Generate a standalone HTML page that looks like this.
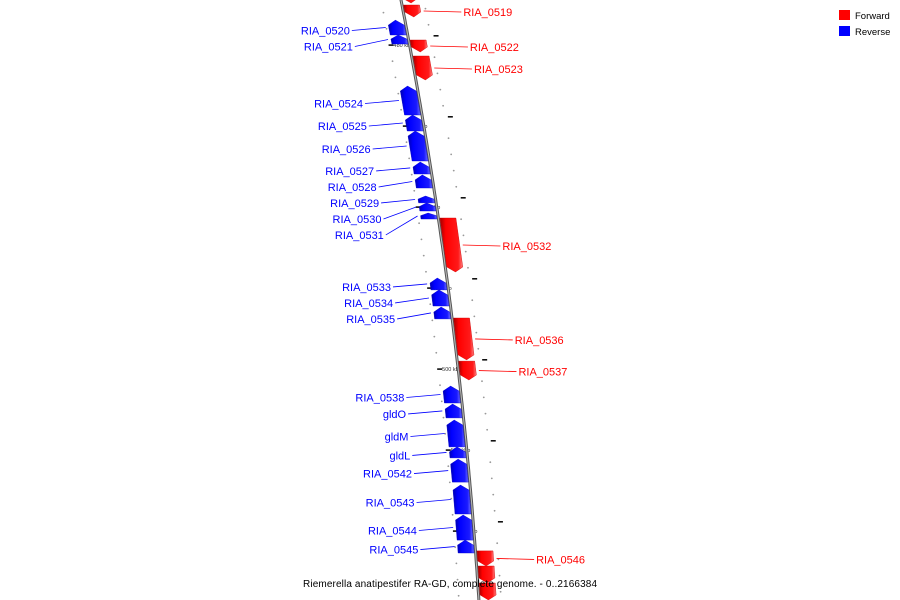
<!DOCTYPE html>
<html><head><meta charset="utf-8"><style>
html,body{margin:0;padding:0;background:#fff;}
svg{display:block;font-family:"Liberation Sans",sans-serif;}
</style></head><body>
<svg id="chart" width="900" height="600" viewBox="0 0 900 600">
<defs>
<linearGradient id="gRed" x1="0" x2="1" y1="0" y2="0"><stop offset="0" stop-color="#a00000"/><stop offset="0.25" stop-color="#ff0000"/><stop offset="0.8" stop-color="#ff1a1a"/><stop offset="1" stop-color="#ff8080"/></linearGradient>
<linearGradient id="gBlue" x1="0" x2="1" y1="0" y2="0"><stop offset="0" stop-color="#0000b0"/><stop offset="0.25" stop-color="#0000ff"/><stop offset="0.8" stop-color="#1a1aff"/><stop offset="1" stop-color="#7070ff"/></linearGradient>
</defs>
<g id="ticks"></g>
<g id="axis"></g>
<g id="genes"></g>
<g id="labels"></g>
<g>
<rect x="839" y="10" width="11" height="10" fill="#ff0000"/>
<text x="855" y="19" font-size="9.5" fill="#000">Forward</text>
<rect x="839" y="26" width="11" height="10" fill="#0000ff"/>
<text x="855" y="35" font-size="9.5" fill="#000">Reverse</text>
</g>
<text x="303" y="587" font-size="10" textLength="294" fill="#000">Riemerella anatipestifer RA-GD, complete genome. - 0..2166384</text>
</svg>
<script>
const fwdNames = ["", "RIA_0519", "RIA_0522", "RIA_0523", "RIA_0532", "RIA_0536", "RIA_0537", "RIA_0546", "", ""];
const fwdStart = [476.6, 477.53, 479.69, 480.68, 490.68, 496.85, 499.51, 511.23, 512.16, 513.21];
const fwdEnd   = [477.41, 478.27, 480.43, 482.16, 494.01, 499.44, 500.68, 512.16, 513.21, 514.26];
const revNames = ["RIA_0520","RIA_0521","RIA_0524","RIA_0525","RIA_0526","RIA_0527","RIA_0528","RIA_0529","RIA_0530","RIA_0531","RIA_0533","RIA_0534","RIA_0535","RIA_0538","gldO","gldM","gldL","RIA_0542","RIA_0543","RIA_0544","RIA_0545"];
const revStart = [478.46,479.38,482.53,484.32,485.31,487.22,488.02,489.32,489.75,490.37,494.38,495.12,496.17,501.05,502.16,503.15,504.81,505.56,507.16,509.01,510.56];
const revEnd   = [479.38,479.94,484.32,485.31,487.16,487.96,488.83,489.75,490.25,490.74,495.12,496.11,496.91,502.10,503.02,504.81,505.49,506.98,508.95,510.56,511.36];
const majorTicks = [480, 485, 490, 495, 500, 505, 510];

const NS = "http://www.w3.org/2000/svg";
function yOf(kb){ return 45 + (kb - 480) * 16.2; }
function axX(y){ return 401 + 0.195*y - 0.0001086*y*y; }
function mk(tag, attrs, parent){ const e=document.createElementNS(NS,tag); for(const k in attrs) e.setAttribute(k, attrs[k]); parent.appendChild(e); return e; }

// axis
const axisG=document.getElementById('axis');
let pts=[]; for(let y=-5;y<=605;y+=5) pts.push(axX(y).toFixed(1)+","+y);
const ax1=mk('polyline',{points:pts.join(' '),fill:'none',stroke:'#555','stroke-width':3},axisG);


const ax2=mk('polyline',{points:pts.join(' '),fill:'none',stroke:'#bbb','stroke-width':1},axisG);



// ticks
const tg=document.getElementById('ticks');
for(let kb=476; kb<=515; kb++){
  const y=yOf(kb); if(y<-5||y>605) continue;
  const isMajor = majorTicks.indexOf(kb)>=0;
  const a=axX(y);
  if(isMajor){
    const l=mk('rect',{x:a-21,y:y-0.7,width:5,height:1.6,fill:'#111'},tg);
    
    
    const r=mk('rect',{x:a+24,y:y-10,width:5,height:1.6,fill:'#111'},tg);
    
    
    const t=mk('text',{x:a-16,y:y+2,'font-size':5.5,fill:'#333'},tg);
    t.textContent=kb+" kbp";
    
    
  } else {
    const l=mk('circle',{cx:a-20,cy:y,r:0.9,fill:'#999'},tg);
    
    
    const r=mk('circle',{cx:a+22,cy:y-4,r:0.9,fill:'#999'},tg);
    
    
  }
}

const gg=document.getElementById('genes'), lg=document.getElementById('labels');
function drawGene(s,e,fwd,name){
  const y0=yOf(s), y1=yOf(e), h=y1-y0, tip=Math.min(5,h*0.45);
  const off0 = fwd? 1.5 : -17.5, w=16;
  const xa=axX(y0)+off0, xb=axX(y1)+off0;
  let p;
  if(fwd){
    const xm=axX(y1-tip)+off0;
    p=[[xa,y0],[xa+w,y0],[xm+w,y1-tip],[xb+w/2,y1],[xm,y1-tip]];
  } else {
    const xm=axX(y0+tip)+off0;
    p=[[xa+w/2,y0],[xm+w,y0+tip],[xb+w,y1],[xb,y1],[xm,y0+tip]];
  }
  const poly=mk('polygon',{points:p.map(q=>q[0].toFixed(1)+","+q[1].toFixed(1)).join(' '),fill:fwd?'url(#gRed)':'url(#gBlue)',stroke:fwd?'#c00':'#00c','stroke-width':0.4},gg);
  
  
  return {cy:(y0+y1)/2, gx: fwd? axX((y0+y1)/2)+off0+w : axX((y0+y1)/2)+off0};
}
function layout(names, starts, ends, fwd){
  let prev=-100;
  for(let i=0;i<names.length;i++){
    const g=drawGene(starts[i],ends[i],fwd,names[i]);
    if(!names[i]) continue;
    let ly=Math.max(g.cy+(fwd?1:3), prev+16); prev=ly;
    const color=fwd?'#ff0000':'#0000ff';
    const lx = fwd? axX(ly)+60 : axX(ly)-57;
    const ln=mk('line',{x1:g.gx+(fwd?3:-3),y1:g.cy,x2:fwd?lx-2:lx+2,y2:ly,stroke:color,'stroke-width':0.8},lg);
    
    
    const t=mk('text',{x:lx,y:ly+4,'font-size':11,fill:color,'text-anchor':fwd?'start':'end'},lg);
    t.textContent=names[i];
    
    
  }
}
layout(fwdNames,fwdStart,fwdEnd,true);
layout(revNames,revStart,revEnd,false);
</script>
</body></html>
